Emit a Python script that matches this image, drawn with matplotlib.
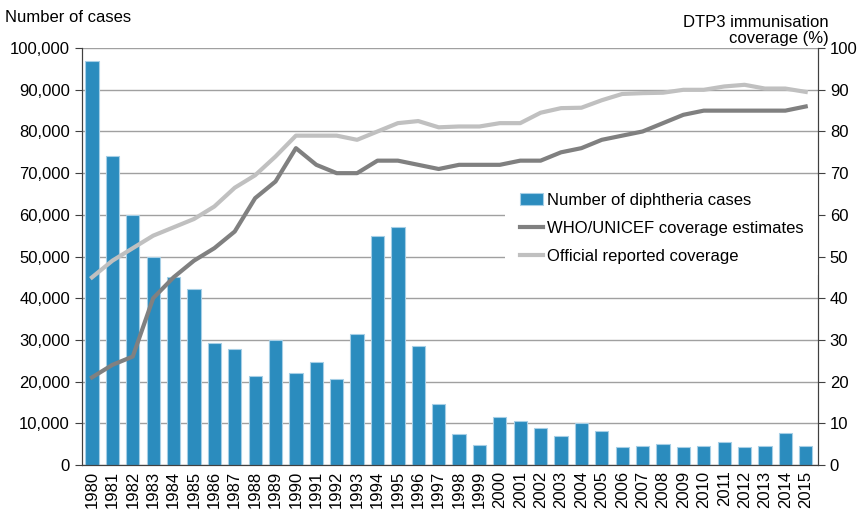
import matplotlib.pyplot as plt
import matplotlib
from matplotlib.patches import Rectangle

matplotlib.rcParams['font.family'] = ['Liberation Sans', 'DejaVu Sans']

years = [str(y) for y in range(1980, 2016)]

cases = [97000, 74000, 60000, 50000, 45000, 42200, 29200, 27800, 21300, 29900,
         22000, 24800, 20700, 31300, 55000, 57000, 28600, 14600, 7300, 4800,
         11400, 10600, 8900, 7000, 10000, 8100, 4400, 4600, 5000, 4400,
         4600, 5600, 4400, 4600, 7700, 4500]

who_unicef = [21, 24, 26, 40, 45, 49, 52, 56, 64, 68,
              76, 72, 70, 70, 73, 73, 72, 71, 72, 72,
              72, 73, 73, 75, 76, 78, 79, 80, 82, 84,
              85, 85, 85, 85, 85, 86]

official = [45, 49, 52, 55, 57, 59, 62, 66.5, 69.5, 74,
            79, 79, 79, 78, 80, 82, 82.5, 81, 81.2, 81.2,
            82, 82, 84.5, 85.6, 85.7, 87.5, 89, 89.2, 89.3, 90,
            90, 90.8, 91.2, 90.3, 90.3, 89.5]

fig = plt.figure(figsize=(8.61, 5.12), dpi=100)
ax = fig.add_axes([0.095, 0.092, 0.855, 0.814])
ax2 = ax.twinx()

x = range(len(years))
bars = ax.bar(x, cases, width=0.65, color='#2b8cbe', edgecolor='#a6cfe6',
              linewidth=0.8, zorder=2, label='Number of diphtheria cases')

ax.set_ylim(0, 100000)
ax.set_yticks(range(0, 100001, 10000))
ax.set_yticklabels(['{:,}'.format(v) for v in range(0, 100001, 10000)], fontsize=12)
ax.yaxis.grid(True, color='#a0a0a0', linewidth=1, zorder=0)
ax.set_axisbelow(True)
ax.set_xlim(-0.5, 35.6)
ax.set_xticks(list(x))
ax.set_xticklabels(years, rotation=90, fontsize=12)
ax.tick_params(axis='x', length=0, pad=4)
ax.tick_params(axis='y', length=5, direction='out', color='#404040')

l1, = ax2.plot(x, who_unicef, color='#808080', linewidth=3, label='WHO/UNICEF coverage estimates')
l2, = ax2.plot(x, official, color='#c0c0c0', linewidth=3, label='Official reported coverage')
ax2.set_ylim(0, 100)
ax2.set_yticks(range(0, 101, 10))
ax2.set_yticklabels([str(v) for v in range(0, 101, 10)], fontsize=12)
ax2.tick_params(axis='y', length=5, direction='out', color='#404040')

for a in (ax, ax2):
    a.spines['top'].set_visible(False)
    a.spines['left'].set_color('#404040')
    a.spines['right'].set_color('#404040')
    a.spines['bottom'].set_color('#404040')

# white box behind the legend hides the gridlines there
ax2.add_patch(Rectangle((0.575, 0.456), 0.425, 0.237, transform=ax2.transAxes,
                        facecolor='white', edgecolor='none', zorder=1))

leg = ax2.legend(handles=[bars, l1, l2], loc='upper left', bbox_to_anchor=(0.595, 0.652),
                 fontsize=12, frameon=False, borderaxespad=0, borderpad=0,
                 handlelength=1.38, handletextpad=0.24, labelspacing=0.77)
leg.set_zorder(5)

fig.text(0.006, 0.965, 'Number of cases', fontsize=12, ha='left', va='center')
fig.text(0.962, 0.94, 'DTP3 immunisation\ncoverage (%)', fontsize=12, ha='right', va='center',
         multialignment='right', linespacing=1.1)

fig.savefig('out.png', dpi=100)
